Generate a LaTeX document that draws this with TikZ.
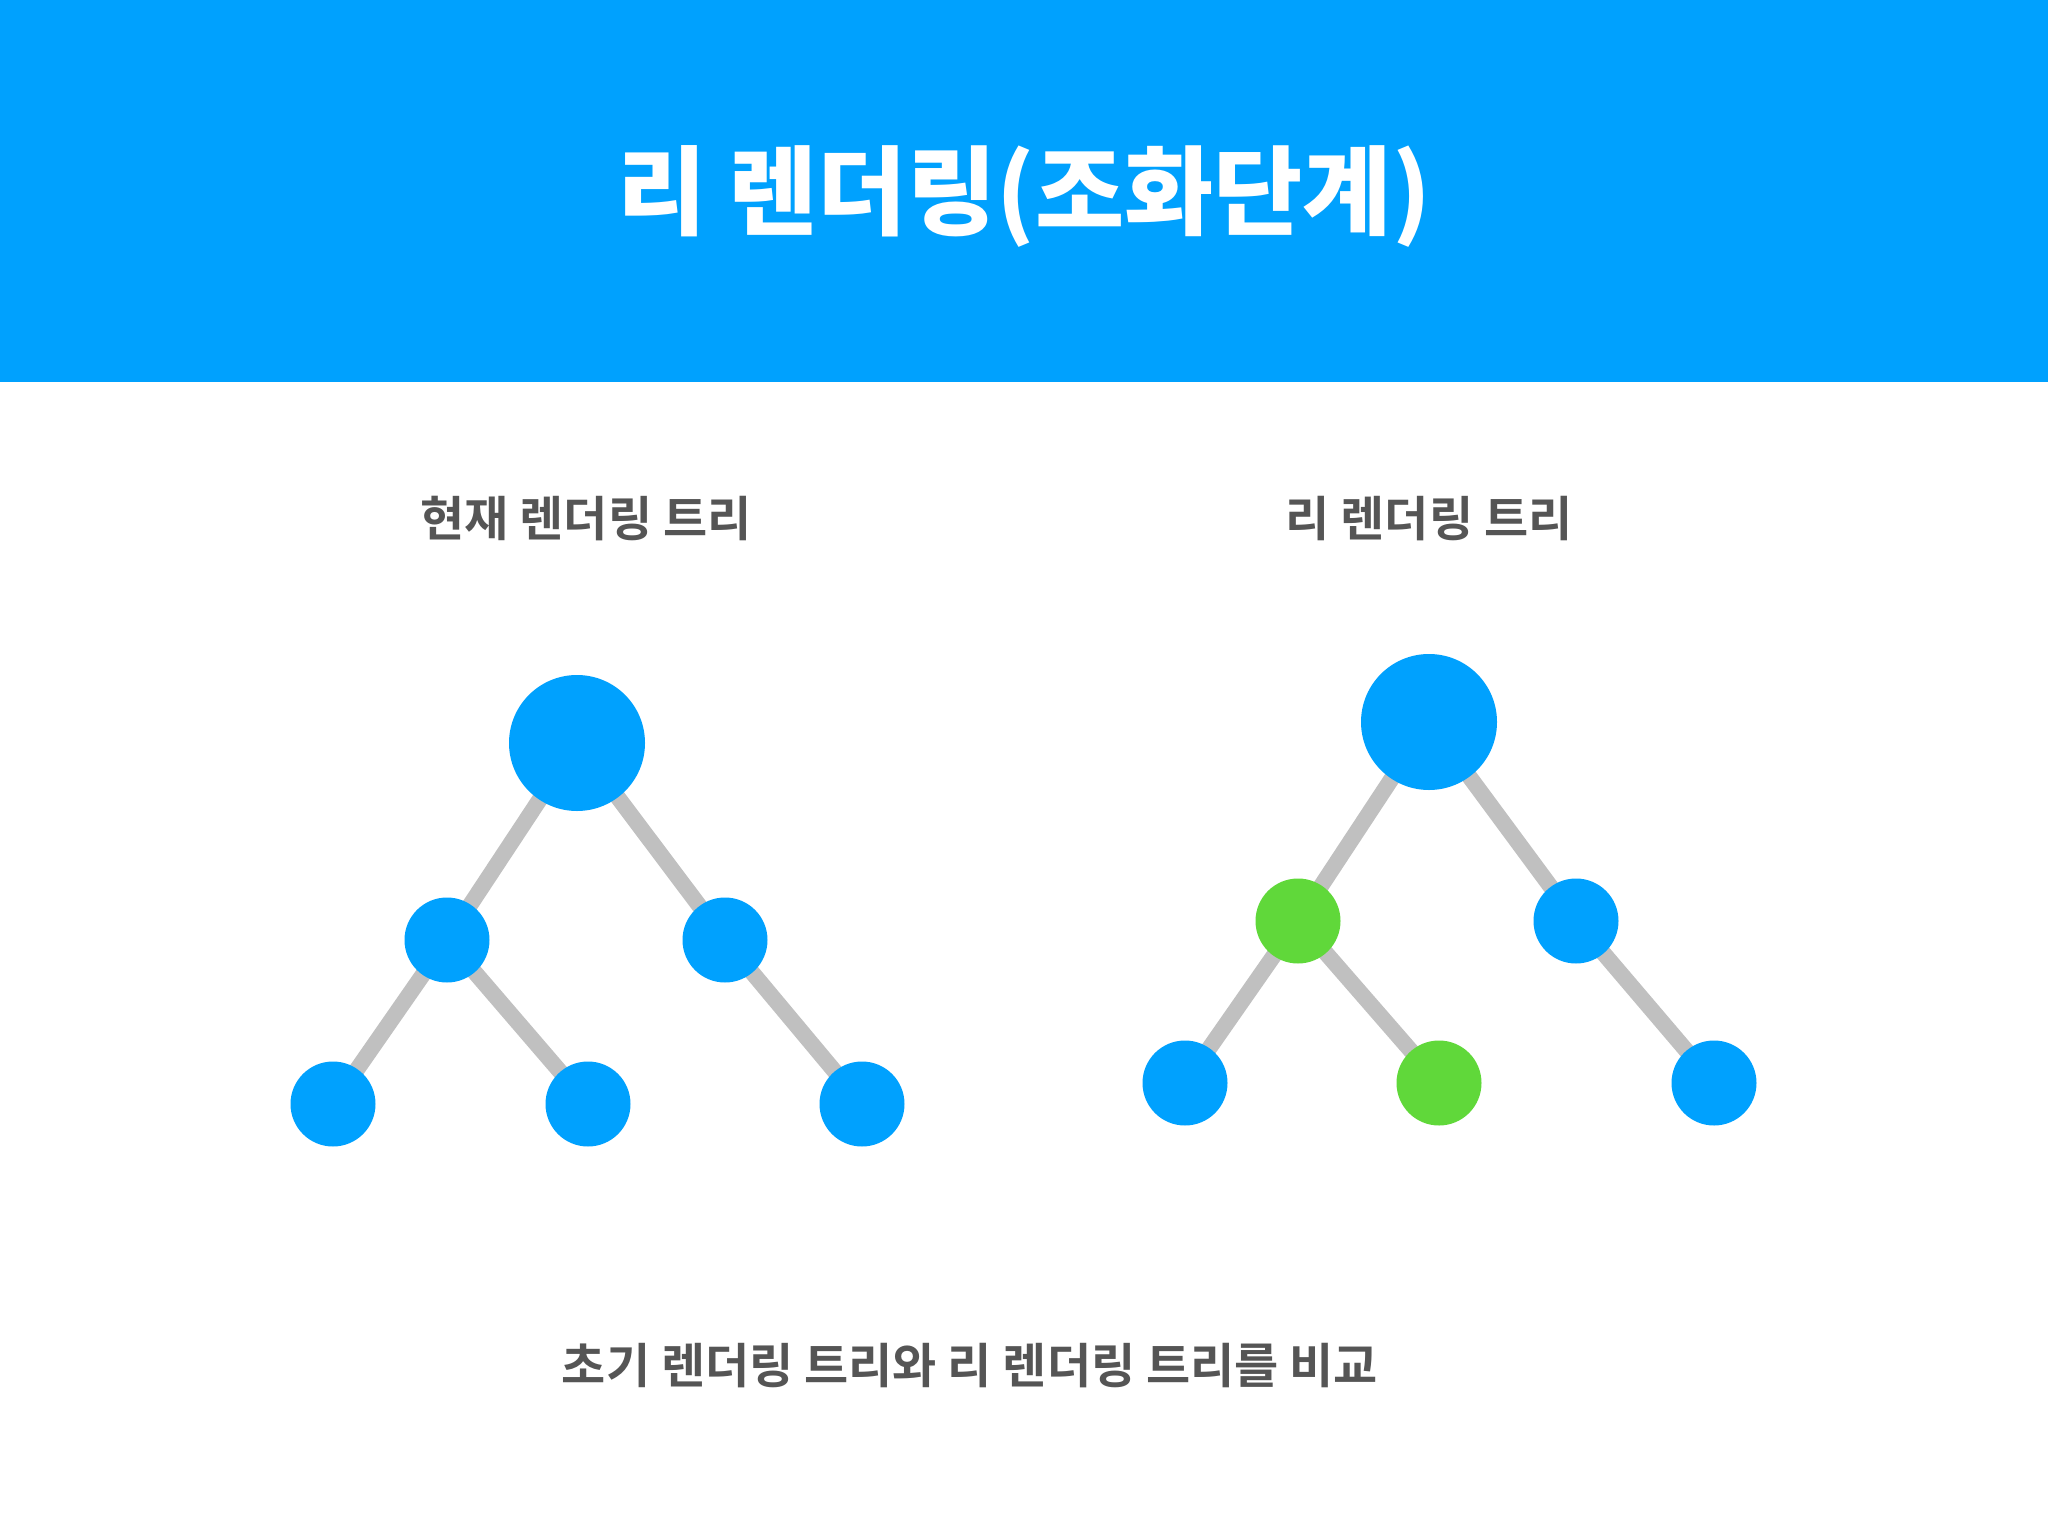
\documentclass[tikz,border=0pt]{standalone}
\usepackage{fontspec}
\usepackage{xcolor}
\usetikzlibrary{positioning}
\usetikzlibrary{backgrounds}
\setmainfont{Noto Sans CJK KR}[BoldFont={Noto Sans CJK KR Bold}]
\newfontfamily\heavykr{Noto Sans CJK KR Black}
\definecolor{custom-blue}{RGB}{0, 161, 254}
\definecolor{custom-green}{RGB}{96, 216, 58}
\definecolor{custom-grey}{RGB}{192, 192, 192}
\definecolor{custom-text}{RGB}{85, 85, 85}

\begin{document}
\begin{tikzpicture}[x=1pt, y=-1pt,
    bignode/.style={circle, fill=custom-blue, minimum size=136pt, inner sep=0pt},
    smallnode/.style={circle, fill=custom-blue, minimum size=85pt, inner sep=0pt},
    changed/.style={fill=custom-green},
    branch/.style={draw=custom-grey, line width=16pt},
    caption/.style={text=custom-text, font=\bfseries\fontsize{48}{54}\selectfont}]
\useasboundingbox (0,0) rectangle (2048,1536);
\node[text=white, font=\heavykr\fontsize{97}{104}\selectfont] (title) at (1024,196) {리 렌더링(조화단계)};

% current tree
\node[caption] (curlabel) at (586,519) {현재 렌더링 트리};
\node[bignode] (croot) at (577,743) {};
\node[smallnode] (cleft) at (447,940) {};
\node[smallnode] (cright) at (725,940) {};
\node[smallnode] (cll) at (333,1104) {};
\node[smallnode] (clr) at (588,1104) {};
\node[smallnode] (crr) at (862,1104) {};

% re-rendered tree
\node[caption] (newlabel) at (1429,519) {리 렌더링 트리};
\node[bignode] (nroot) at (1429,722) {};
\node[smallnode, changed] (nleft) at (1298,921) {};
\node[smallnode] (nright) at (1576,921) {};
\node[smallnode] (nll) at (1185,1083) {};
\node[smallnode, changed] (nlr) at (1439,1083) {};
\node[smallnode] (nrr) at (1714,1083) {};

\node[caption] (footer) at (970,1366) {초기 렌더링 트리와 리 렌더링 트리를 비교};

% page, header band and edges under the nodes
\begin{pgfonlayer}{background}
\fill[white] (0,0) rectangle (2048,1536);
\fill[custom-blue] (0,0) rectangle (2048,382);
\draw[branch] (croot.center) -- (cleft.center) -- (cll.center);
\draw[branch] (cleft.center) -- (clr.center);
\draw[branch] (croot.center) -- (cright.center) -- (crr.center);
\draw[branch] (nroot.center) -- (nleft.center) -- (nll.center);
\draw[branch] (nleft.center) -- (nlr.center);
\draw[branch] (nroot.center) -- (nright.center) -- (nrr.center);
\end{pgfonlayer}
\end{tikzpicture}
\end{document}
